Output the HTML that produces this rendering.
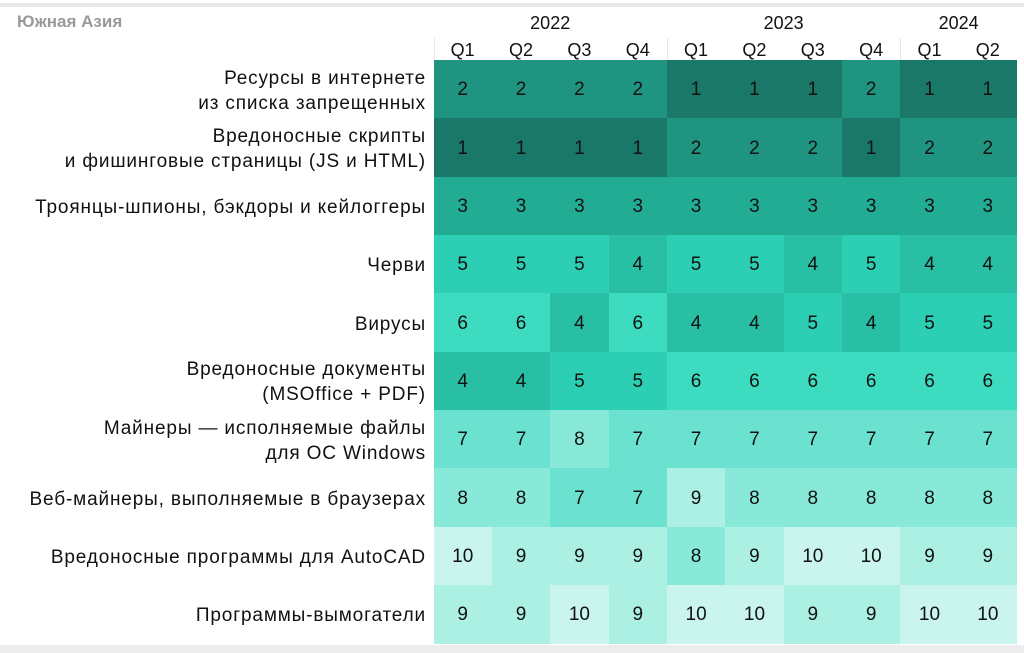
<!DOCTYPE html><html><head><meta charset="utf-8"><style>
body{margin:0;width:1024px;height:653px;background:#fff;font-family:"Liberation Sans",sans-serif;position:relative;overflow:hidden}
.t{position:absolute;left:17px;top:12px;font-size:17px;font-weight:bold;color:#999}
.top{position:absolute;left:0;top:3px;width:1024px;height:4px;background:#e8e8e8}
.bot{position:absolute;left:0;top:645px;width:1024px;height:8px;background:#ececec}
.y{position:absolute;top:13px;font-size:18px;color:#111;text-align:center}
.q{position:absolute;top:40px;width:58.3px;text-align:center;font-size:18px;color:#111}
.c{position:absolute;width:58.4px;height:58.4px;display:flex;align-items:center;justify-content:center;font-size:19px;color:#111;padding-top:2px;box-sizing:border-box}
.l{position:absolute;right:598px;width:430px;text-align:right;font-size:19px;letter-spacing:0.85px;color:#111;line-height:25px;display:flex;align-items:center;justify-content:flex-end;padding-top:3px;box-sizing:border-box}
.vl{position:absolute;top:38px;width:1px;height:22px;background:#e6e6e6}
</style></head><body>
<div class="top"></div><div class="bot"></div>
<div class="t">Южная Азия</div>
<div id="g"></div>
<script>
const col={1:'#1a7868',2:'#1f9480',3:'#22ac94',4:'#28bfa5',5:'#2ccfb4',6:'#3ddbc0',7:'#6be2cf',8:'#88e9d9',9:'#acf0e4',10:'#c9f5ee'};
const labels=["Ресурсы в интернете<br>из списка запрещенных","Вредоносные скрипты<br>и фишинговые страницы (JS и HTML)","Троянцы-шпионы, бэкдоры и кейлоггеры","Черви","Вирусы","Вредоносные документы<br>(MSOffice + PDF)","Майнеры — исполняемые файлы<br>для ОС Windows","Веб-майнеры, выполняемые в браузерах","Вредоносные программы для AutoCAD","Программы-вымогатели"];
const d=[[2,2,2,2,1,1,1,2,1,1],[1,1,1,1,2,2,2,1,2,2],[3,3,3,3,3,3,3,3,3,3],[5,5,5,4,5,5,4,5,4,4],[6,6,4,6,4,4,5,4,5,5],[4,4,5,5,6,6,6,6,6,6],[7,7,8,7,7,7,7,7,7,7],[8,8,7,7,9,8,8,8,8,8],[10,9,9,9,8,9,10,10,9,9],[9,9,10,9,10,10,9,9,10,10]];
const X0=433.5,W=58.35,Y0=60,H=58.35;let h='';
const qs=['Q1','Q2','Q3','Q4','Q1','Q2','Q3','Q4','Q1','Q2'];
qs.forEach((q,i)=>h+=`<div class="q" style="left:${X0+i*W}px">${q}</div>`);
[[0,4,'2022'],[4,4,'2023'],[8,2,'2024']].forEach(([s,n,t])=>h+=`<div class="y" style="left:${X0+s*W}px;width:${n*W}px">${t}</div>`);
[0,4,8].forEach(s=>h+=`<div class="vl" style="left:${X0+s*W}px"></div>`);
d.forEach((r,j)=>{h+=`<div class="l" style="top:${Y0+j*H}px;height:${H}px">${labels[j]}</div>`;
r.forEach((v,i)=>h+=`<div class="c" style="left:${X0+i*W}px;top:${Y0+j*H}px;background:${col[v]}">${v}</div>`)});
document.getElementById('g').innerHTML=h;
</script>
</body></html>
